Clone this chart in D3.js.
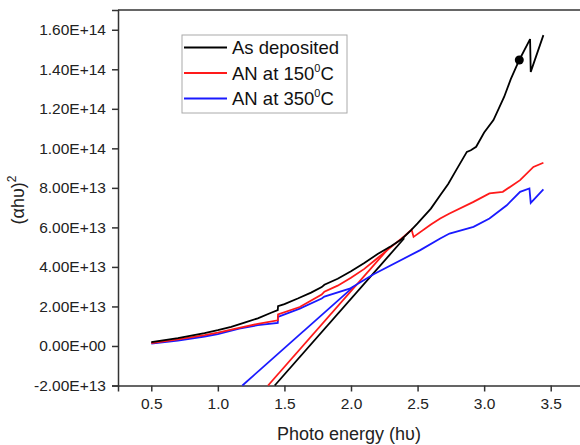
<!DOCTYPE html>
<html>
<head>
<meta charset="utf-8">
<script src="https://cdn.jsdelivr.net/npm/d3@7"></script>
<style>
  body { margin: 0; background: #fff; }
  svg { font-family: Arial, "Liberation Sans", sans-serif; }
  .axis path, .axis line { stroke: #333; stroke-width: 1.5; }
  .axis text { font-size: 15.5px; fill: #222; }
</style>
</head>
<body>
<div id="chart"></div>
<script>
// values, y in units of 1E+13
var depEnergy = [0.5, 0.6, 0.7, 0.8, 0.9, 1.0, 1.1, 1.2, 1.3, 1.4, 1.45, 1.452, 1.5, 1.6, 1.7, 1.78, 1.8, 1.9, 2.0, 2.1, 2.2, 2.3, 2.38, 2.45, 2.5, 2.6, 2.67, 2.73, 2.79, 2.87, 2.9, 2.94, 3.0, 3.07, 3.15, 3.2, 3.264, 3.345, 3.35, 3.445];
var depValue  = [0.19, 0.3, 0.4, 0.52, 0.65, 0.8, 0.97, 1.18, 1.4, 1.68, 1.81, 2.01, 2.12, 2.4, 2.7, 2.98, 3.1, 3.4, 3.78, 4.2, 4.65, 5.05, 5.4, 5.85, 6.2, 6.95, 7.63, 8.2, 8.9, 9.82, 9.9, 10.08, 10.8, 11.43, 12.6, 13.5, 14.47, 15.53, 13.87, 15.73];

var an150Energy = [0.5, 0.7, 0.9, 1.0, 1.16, 1.3, 1.45, 1.452, 1.615, 1.78, 1.8, 1.9, 2.0, 2.1, 2.2, 2.3, 2.4, 2.455, 2.47, 2.6, 2.67, 2.74, 2.92, 3.04, 3.14, 3.27, 3.37, 3.445];
var an150Value  = [0.15, 0.33, 0.55, 0.68, 0.92, 1.12, 1.3, 1.6, 1.97, 2.6, 2.75, 3.05, 3.45, 3.9, 4.45, 5.0, 5.55, 5.89, 5.52, 6.15, 6.45, 6.7, 7.29, 7.72, 7.8, 8.39, 9.06, 9.27];

var an350Energy = [0.5, 0.7, 0.9, 1.0, 1.16, 1.3, 1.45, 1.452, 1.615, 1.78, 1.8, 1.99, 2.17, 2.52, 2.67, 2.74, 2.92, 3.04, 3.17, 3.27, 3.34, 3.35, 3.445];
var an350Value  = [0.12, 0.27, 0.48, 0.6, 0.88, 1.05, 1.17, 1.47, 1.89, 2.4, 2.5, 2.9, 3.63, 4.85, 5.44, 5.69, 6.03, 6.45, 7.12, 7.8, 7.97, 7.24, 7.92];

// linear fits down to the x axis
var fitDepEnergy = [1.427, 2.40];
var fitDepValue  = [-2, 5.45];
var fit150Energy = [1.377, 2.29];
var fit150Value  = [-2, 5.0];
var fit350Energy = [1.184, 2.02];
var fit350Value  = [-2, 3.0];

var markEnergy = [3.264];
var markValue  = [14.47];

var xTicks = [0.5, 1.0, 1.5, 2.0, 2.5, 3.0, 3.5];
var yTicks = [-2, 0, 2, 4, 6, 8, 10, 12, 14, 16];
var seriesNames = ["As deposited", "AN at 150", "AN at 350"];
var seriesColors = ["#000000", "#ff1a1a", "#1a1aff"];

var W = 580, H = 445;
var margin = {top: 10, right: -4, bottom: 59.5, left: 118};
var width = W - margin.left - margin.right,
    height = H - margin.top - margin.bottom;

var svg = d3.select("#chart").append("svg")
    .attr("width", W).attr("height", H);
var g = svg.append("g").attr("transform", "translate(" + margin.left + "," + margin.top + ")");

var x = d3.scaleLinear().domain([0.25, 3.75]).range([0, width]);
var y = d3.scaleLinear().domain([-2, 17]).range([height, 0]);

function fmtE(v) {
  if (v === 0) return "0.00E+00";
  var s = (v * 1e13).toExponential(2).toUpperCase();
  return s.replace(/E([+-])(\d)$/, "E$10$2");
}

// frame top / right
g.append("line").attr("x1", 0).attr("x2", width).attr("y1", 0).attr("y2", 0)
    .attr("stroke", "#333").attr("stroke-width", 1.5);
g.append("line").attr("x1", width).attr("x2", width).attr("y1", 0).attr("y2", height)
    .attr("stroke", "#333").attr("stroke-width", 1.5);

g.append("g").attr("class", "axis")
    .attr("transform", "translate(0," + height + ")")
    .call(d3.axisBottom(x).tickValues(xTicks).tickFormat(d3.format(".1f")).tickSizeOuter(0).tickSize(6).tickPadding(6));

g.append("g").attr("class", "axis")
    .call(d3.axisLeft(y).tickValues(yTicks).tickFormat(fmtE).tickSizeOuter(0).tickSize(6).tickPadding(6));

var line = d3.line()
    .x(function(d) { return x(d[0]); })
    .y(function(d) { return y(d[1]); });

function pts(xs, ys) { return xs.map(function(v, i) { return [v, ys[i]]; }); }

var plot = g.append("g");
plot.append("path").datum(pts(fit350Energy, fit350Value)).attr("d", line)
    .attr("fill", "none").attr("stroke", seriesColors[2]).attr("stroke-width", 1.8);
plot.append("path").datum(pts(fit150Energy, fit150Value)).attr("d", line)
    .attr("fill", "none").attr("stroke", seriesColors[1]).attr("stroke-width", 1.8);
plot.append("path").datum(pts(fitDepEnergy, fitDepValue)).attr("d", line)
    .attr("fill", "none").attr("stroke", seriesColors[0]).attr("stroke-width", 1.8);

plot.append("path").datum(pts(an350Energy, an350Value)).attr("d", line)
    .attr("fill", "none").attr("stroke", seriesColors[2]).attr("stroke-width", 1.8);
plot.append("path").datum(pts(an150Energy, an150Value)).attr("d", line)
    .attr("fill", "none").attr("stroke", seriesColors[1]).attr("stroke-width", 1.8);
plot.append("path").datum(pts(depEnergy, depValue)).attr("d", line)
    .attr("fill", "none").attr("stroke", seriesColors[0]).attr("stroke-width", 1.8);

plot.selectAll(".mark").data(pts(markEnergy, markValue)).enter().append("circle")
    .attr("cx", function(d) { return x(d[0]); })
    .attr("cy", function(d) { return y(d[1]); })
    .attr("r", 4.5).attr("fill", "#000");

// axis titles
svg.append("text").attr("x", 349).attr("y", 440)
    .attr("text-anchor", "middle").attr("font-size", 18).attr("fill", "#222")
    .text("Photo energy (hυ)");

var yt = svg.append("text").attr("transform", "translate(24,200) rotate(-90)")
    .attr("text-anchor", "middle").attr("font-size", 18).attr("fill", "#222");
yt.append("tspan").text("(αhυ)");
yt.append("tspan").attr("font-size", 12).attr("dy", -8).text("2");

// legend
var leg = svg.append("g").attr("transform", "translate(182,35)");
leg.append("rect").attr("width", 165).attr("height", 78)
    .attr("fill", "#fff").attr("stroke", "#aaa").attr("stroke-width", 1);
seriesNames.forEach(function(name, i) {
  var cy = 12.5 + i * 25.5;
  leg.append("line").attr("x1", 2).attr("x2", 45).attr("y1", cy).attr("y2", cy)
      .attr("stroke", seriesColors[i]).attr("stroke-width", 1.8);
  var t = leg.append("text").attr("x", 50).attr("y", cy + 6.5)
      .attr("font-size", 18.5).attr("fill", "#111");
  if (i === 0) {
    t.text(name);
  } else {
    t.append("tspan").text(name);
    t.append("tspan").attr("font-size", 11).attr("dy", -8).text("0");
    t.append("tspan").attr("dy", 8).text("C");
  }
});
</script>
</body>
</html>
